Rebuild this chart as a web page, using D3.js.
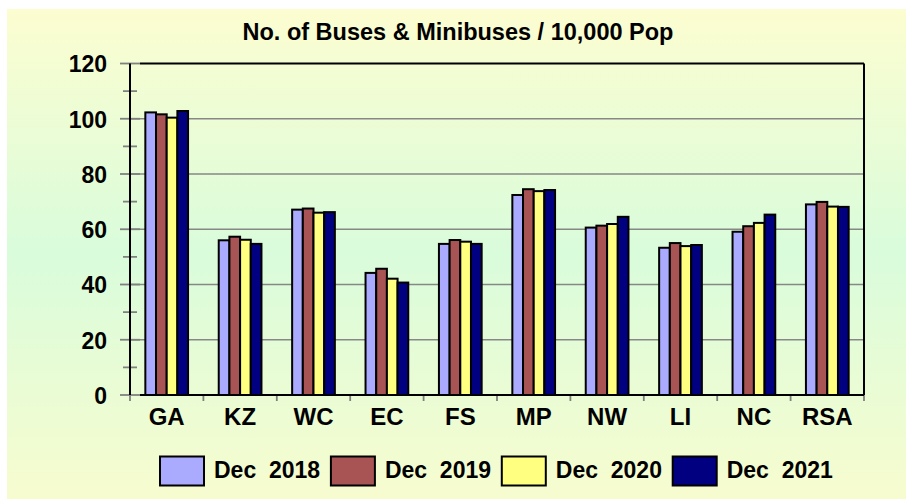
<!DOCTYPE html>
<html>
<head>
<meta charset="utf-8">
<script src="https://cdn.jsdelivr.net/npm/d3@7"></script>
<style>
  body { margin: 0; background: #fff; }
  text { font-family: "Liberation Sans", Arial, sans-serif; font-weight: bold; fill: #000; }
</style>
</head>
<body>
<svg id="chart" width="906" height="499"></svg>
<script>
const regions = ['GA', 'KZ', 'WC', 'EC', 'FS', 'MP', 'NW', 'LI', 'NC', 'RSA'];
const seriesNames = ['Dec  2018', 'Dec  2019', 'Dec  2020', 'Dec  2021'];
const dec2018 = [102.3, 56.0, 67.1, 44.2, 54.7, 72.4, 60.6, 53.3, 59.1, 69.0];
const dec2019 = [101.6, 57.3, 67.5, 45.7, 56.1, 74.5, 61.3, 55.0, 61.1, 69.9];
const dec2020 = [100.4, 56.2, 66.0, 42.1, 55.5, 73.8, 61.9, 53.9, 62.3, 68.2];
const dec2021 = [102.8, 54.7, 66.2, 40.7, 54.7, 74.2, 64.5, 54.3, 65.3, 68.1];
const yTicks = [0, 20, 40, 60, 80, 100, 120];
const yMinorTicks = [10, 30, 50, 70, 90, 110];

const seriesColors = ['#aaaaff', '#a85454', '#ffff80', '#000080'];
const margin = { top: 63.5, right: 42, bottom: 104, left: 130 };
const W = 906, H = 499;
const width = W - margin.left - margin.right;
const height = H - margin.top - margin.bottom;

// rows for grouped bars
const allSeries = [dec2018, dec2019, dec2020, dec2021];
const rows = regions.map((r, i) => ({ region: r, values: allSeries.map((s, k) => ({ key: seriesNames[k], value: s[i], k })) }));

const svg = d3.select('#chart');

// background gradient
const grad = svg.append('defs').append('linearGradient')
    .attr('id', 'bg').attr('x1', 0).attr('y1', 0).attr('x2', 0).attr('y2', 1);
grad.append('stop').attr('offset', '0%').attr('stop-color', '#fcfdd0');
grad.append('stop').attr('offset', '50%').attr('stop-color', '#d9fcdb');
grad.append('stop').attr('offset', '100%').attr('stop-color', '#f7fccf');

svg.append('rect')
    .attr('x', 7).attr('y', 9)
    .attr('width', W - 7).attr('height', H - 9)
    .attr('fill', 'url(#bg)');

// title
svg.append('text')
    .attr('x', 458).attr('y', 39.5)
    .attr('text-anchor', 'middle')
    .style('font-size', '23.5px')
    .text('No. of Buses & Minibuses / 10,000 Pop');

const g = svg.append('g').attr('transform', `translate(${margin.left},${margin.top})`);

const x0 = d3.scaleBand().domain(regions).range([0, width]).padding(0);
const x1 = d3.scaleBand().domain(seriesNames)
    .range([x0.bandwidth() * 0.209, x0.bandwidth() * 0.791]).padding(0);
const y = d3.scaleLinear().domain([0, 120]).range([height, 0]);

// gridlines
g.append('g')
    .selectAll('line')
    .data(yTicks.filter(t => t > 0 && t < 120))
    .enter().append('line')
    .attr('x1', 0).attr('x2', width)
    .attr('y1', d => y(d)).attr('y2', d => y(d))
    .attr('stroke', '#878787').attr('stroke-width', 1.5);

// bars
const groups = g.selectAll('.grp')
    .data(rows)
    .enter().append('g')
    .attr('class', 'grp')
    .attr('transform', d => `translate(${x0(d.region)},0)`);

groups.selectAll('rect')
    .data(d => d.values)
    .enter().append('rect')
    .attr('x', d => x1(d.key))
    .attr('width', x1.bandwidth())
    .attr('y', d => y(d.value))
    .attr('height', d => y(0) - y(d.value))
    .attr('fill', d => seriesColors[d.k])
    .attr('stroke', '#000')
    .attr('stroke-width', 2);

// frame: top and right border
g.append('line').attr('x1', 10).attr('x2', width).attr('y1', 0).attr('y2', 0)
    .attr('stroke', '#000').attr('stroke-width', 2);
g.append('line').attr('x1', width).attr('x2', width).attr('y1', 0).attr('y2', height)
    .attr('stroke', '#000').attr('stroke-width', 2);

// y axis
const yAxis = g.append('g')
    .call(d3.axisLeft(y).tickValues(yTicks).tickSize(0).tickFormat(d => d));
yAxis.select('.domain').remove();
yAxis.selectAll('text')
    .attr('x', -23)
    .attr('dy', '0.36em')
    .style('font-size', '23px')
    .style('font-family', '"Liberation Sans", Arial, sans-serif')
    .style('font-weight', 'bold');

g.append('g').selectAll('line')
    .data(yTicks)
    .enter().append('line')
    .attr('x1', -10).attr('x2', 10)
    .attr('y1', d => y(d)).attr('y2', d => y(d))
    .attr('stroke', '#808080').attr('stroke-width', 1.8);
g.append('g').selectAll('line')
    .data(yMinorTicks)
    .enter().append('line')
    .attr('x1', -7).attr('x2', 7)
    .attr('y1', d => y(d)).attr('y2', d => y(d))
    .attr('stroke', '#808080').attr('stroke-width', 1.8);

g.append('line').attr('x1', 0).attr('x2', 0).attr('y1', 0).attr('y2', height)
    .attr('stroke', '#000').attr('stroke-width', 2);

// x axis
const xTickPos = regions.map(r => x0(r)).concat([width]);
g.append('g').selectAll('line')
    .data(xTickPos)
    .enter().append('line')
    .attr('x1', d => d).attr('x2', d => d)
    .attr('y1', height).attr('y2', height + 6)
    .attr('stroke', '#808080').attr('stroke-width', 1.8);

g.append('line').attr('x1', 10).attr('x2', width).attr('y1', height).attr('y2', height)
    .attr('stroke', '#000').attr('stroke-width', 2);

const xAxis = g.append('g')
    .attr('transform', `translate(0,${height})`)
    .call(d3.axisBottom(x0).tickSize(0));
xAxis.select('.domain').remove();
xAxis.selectAll('text')
    .attr('y', 29.5)
    .attr('dy', 0)
    .style('font-size', '24px')
    .style('font-family', '"Liberation Sans", Arial, sans-serif')
    .style('font-weight', 'bold');

// legend
const legend = svg.append('g').attr('transform', 'translate(160,456.5)');
const items = legend.selectAll('g')
    .data(seriesNames)
    .enter().append('g')
    .attr('transform', (d, i) => `translate(${i * 170.9},0)`);
items.append('rect')
    .attr('width', 44).attr('height', 29)
    .attr('fill', (d, i) => seriesColors[i])
    .attr('stroke', '#000').attr('stroke-width', 2);
items.append('text')
    .attr('x', 54).attr('y', 21)
    .style('font-size', '23px')
    .style('white-space', 'pre')
    .text(d => d);
</script>
</body>
</html>
